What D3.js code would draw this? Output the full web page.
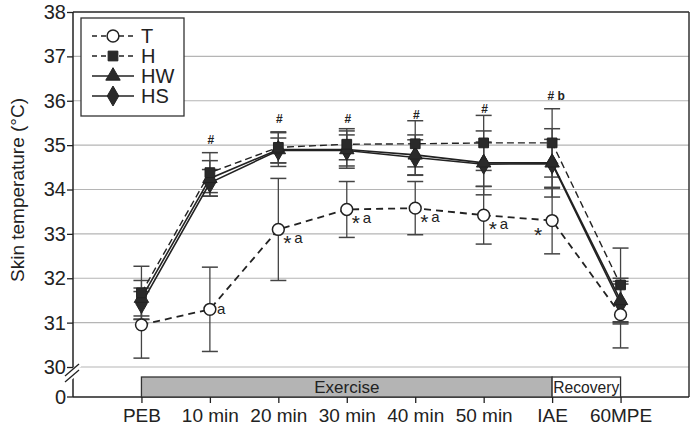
<!DOCTYPE html>
<html>
<head>
<meta charset="utf-8">
<script src="https://cdn.jsdelivr.net/npm/d3@7"></script>
<style>
body { margin: 0; background: #fff; }
text { font-family: "Liberation Sans", Arial, sans-serif; fill: #222; }
</style>
</head>
<body>
<script>
var W = 700, H = 435;

// data
var cats = ["PEB", "10 min", "20 min", "30 min", "40 min", "50 min", "IAE", "60MPE"];
var valT  = [30.95, 31.30, 33.10, 33.55, 33.58, 33.42, 33.30, 31.18];
var sdT   = [0.75, 0.95, 1.15, 0.63, 0.60, 0.65, 0.75, 0.75];
var valH  = [31.67, 34.38, 34.95, 35.02, 35.03, 35.05, 35.05, 31.85];
var sdH   = [0.60, 0.45, 0.35, 0.35, 0.52, 0.62, 0.77, 0.83];
var valHW = [31.55, 34.25, 34.90, 34.90, 34.78, 34.60, 34.60, 31.50];
var sdHW  = [0.40, 0.40, 0.38, 0.42, 0.45, 0.72, 0.77, 0.50];
var valHS = [31.43, 34.15, 34.88, 34.88, 34.72, 34.57, 34.58, 31.42];
var sdHS  = [0.35, 0.30, 0.28, 0.35, 0.40, 0.50, 0.55, 0.45];
var yTicks = [30, 31, 32, 33, 34, 35, 36, 37, 38];
var hashMarks = ["", "#", "#", "#", "#", "#", "# b", ""];
var hashY = [0, 35.02, 35.5, 35.5, 35.6, 35.72, 36.02, 0];
var starMarks = ["", "", "*", "*", "*", "*", "*", ""];
var letterMarks = ["", "a", "a", "a", "a", "a", "", ""];

var svg = d3.select("body").append("svg").attr("width", W).attr("height", H);

var mLeft = 73, mRight = 689, mTop = 12, zeroY = 397;
var x = d3.scaleLinear().domain([0, cats.length + 1]).range([mLeft, mRight]);
var y = d3.scaleLinear().domain([30, 38]).range([367, mTop]);

// gridlines
svg.selectAll(".grid").data(yTicks).enter().append("line")
  .attr("x1", mLeft).attr("x2", mRight)
  .attr("y1", function(d) { return y(d); }).attr("y2", function(d) { return y(d); })
  .attr("stroke", "#b5b5b5").attr("stroke-width", 1.2);

// frame
svg.append("line").attr("x1", mLeft).attr("x2", mRight).attr("y1", mTop).attr("y2", mTop)
  .attr("stroke", "#333").attr("stroke-width", 1.5);
svg.append("line").attr("x1", mRight).attr("x2", mRight).attr("y1", mTop).attr("y2", zeroY)
  .attr("stroke", "#333").attr("stroke-width", 1.5);
svg.append("line").attr("x1", mLeft).attr("x2", mRight).attr("y1", zeroY).attr("y2", zeroY)
  .attr("stroke", "#222").attr("stroke-width", 1.5);

// left axis with break
svg.append("line").attr("x1", mLeft).attr("x2", mLeft).attr("y1", mTop).attr("y2", 372)
  .attr("stroke", "#222").attr("stroke-width", 1.5);
svg.append("line").attr("x1", mLeft).attr("x2", mLeft).attr("y1", 378).attr("y2", zeroY)
  .attr("stroke", "#222").attr("stroke-width", 1.5);
[0, 6].forEach(function(o) {
  svg.append("line").attr("x1", mLeft - 9).attr("x2", mLeft + 7)
    .attr("y1", 381 + o - 4).attr("y2", 369 + o - 4)
    .attr("stroke", "#fff").attr("stroke-width", 4);
});
[0, 6].forEach(function(o) {
  svg.append("line").attr("x1", mLeft - 8).attr("x2", mLeft + 6)
    .attr("y1", 380 + o - 4).attr("y2", 368 + o - 4)
    .attr("stroke", "#222").attr("stroke-width", 1.3);
});

var yAxis = svg.append("g").attr("transform", "translate(" + mLeft + ",0)")
  .call(d3.axisLeft(y).tickValues(yTicks).tickSize(6).tickFormat(d3.format("d")));
yAxis.select(".domain").remove();
yAxis.selectAll("line").attr("stroke", "#222").attr("stroke-width", 1.3);
yAxis.selectAll("text").style("font-size", "20px").attr("x", -7).attr("fill", "#222")
  .style("font-family", "Liberation Sans, Arial, sans-serif");

// zero tick
svg.append("line").attr("x1", mLeft - 6).attr("x2", mLeft).attr("y1", zeroY).attr("y2", zeroY)
  .attr("stroke", "#222").attr("stroke-width", 1.3);
svg.append("text").attr("x", mLeft - 7).attr("y", zeroY).attr("dy", "0.35em")
  .attr("text-anchor", "end").style("font-size", "20px").text("0");

// y label
svg.append("text").attr("transform", "translate(24," + 190 + ") rotate(-90)")
  .attr("text-anchor", "middle").style("font-size", "19px").text("Skin temperature (\u00B0C)");

// phase bars
var barTop = 377;
svg.append("rect").attr("x", x(1)).attr("y", barTop).attr("width", x(7) - x(1)).attr("height", zeroY - barTop)
  .attr("fill", "#b4b4b4").attr("stroke", "#333").attr("stroke-width", 1.3);
svg.append("rect").attr("x", x(7)).attr("y", barTop).attr("width", x(8) - x(7)).attr("height", zeroY - barTop)
  .attr("fill", "#fff").attr("stroke", "#333").attr("stroke-width", 1.3);
svg.append("text").attr("x", (x(1) + x(7)) / 2).attr("y", 393).attr("text-anchor", "middle")
  .style("font-size", "17px").text("Exercise");
svg.append("text").attr("x", (x(7) + x(8)) / 2).attr("y", 393).attr("text-anchor", "middle")
  .style("font-size", "16px").attr("textLength", 66).attr("lengthAdjust", "spacingAndGlyphs").text("Recovery");

// x axis
var xAxis = svg.append("g").attr("transform", "translate(0," + zeroY + ")")
  .call(d3.axisBottom(x).tickValues(d3.range(1, cats.length + 1)).tickSize(6)
    .tickFormat(function(d) { return cats[d - 1]; }));
xAxis.select(".domain").remove();
xAxis.selectAll("line").attr("stroke", "#222").attr("stroke-width", 1.3);
xAxis.selectAll("text").style("font-size", "19px").attr("y", 12).attr("fill", "#222")
  .style("font-family", "Liberation Sans, Arial, sans-serif");

var series = [
  { name: "T",  vals: valT,  sd: sdT,  dash: "7,5", shape: "circle", w: 1.8 },
  { name: "H",  vals: valH,  sd: sdH,  dash: "7,4", shape: "square", w: 1.4 },
  { name: "HW", vals: valHW, sd: sdHW, dash: null,  shape: "triangle", w: 1.6 },
  { name: "HS", vals: valHS, sd: sdHS, dash: null,  shape: "diamond", w: 1.6 }
];

var symbolFor = {
  circle: d3.symbol().type(d3.symbolCircle).size(110),
  square: d3.symbol().type(d3.symbolSquare).size(95),
  triangle: d3.symbol().type(d3.symbolTriangle).size(90),
  diamond: d3.symbol().type(d3.symbolDiamond).size(115)
};

// error bars
series.forEach(function(s) {
  var g = svg.append("g");
  s.vals.forEach(function(v, i) {
    var cx = x(i + 1), hi = y(v + s.sd[i]), lo = y(v - s.sd[i]);
    g.append("line").attr("x1", cx).attr("x2", cx).attr("y1", hi).attr("y2", lo)
      .attr("stroke", "#444").attr("stroke-width", 1.3);
    [hi, lo].forEach(function(yy) {
      g.append("line").attr("x1", cx - 8).attr("x2", cx + 8).attr("y1", yy).attr("y2", yy)
        .attr("stroke", "#444").attr("stroke-width", 1.5);
    });
  });
});

// lines
var line = d3.line().x(function(d, i) { return x(i + 1); }).y(function(d) { return y(d); });
series.slice().reverse().forEach(function(s) {
  svg.append("path").datum(s.vals).attr("d", line).attr("fill", "none")
    .attr("stroke", "#222").attr("stroke-width", s.w)
    .attr("stroke-dasharray", s.dash);
});

// markers
series.slice().reverse().forEach(function(s) {
  svg.selectAll(".m-" + s.name).data(s.vals).enter().append("path")
    .attr("d", symbolFor[s.shape])
    .attr("transform", function(d, i) { return "translate(" + x(i + 1) + "," + y(d) + ")"; })
    .attr("fill", s.shape === "circle" ? "#fff" : "#2a2a2a")
    .attr("stroke", "#222").attr("stroke-width", s.shape === "circle" ? 1.5 : 1);
});

// significance marks
svg.selectAll(".hash").data(hashMarks).enter().append("text")
  .attr("x", function(d, i) { return x(i + 1) + (d === "# b" ? 4 : 1); })
  .attr("y", function(d, i) { return y(hashY[i]); })
  .attr("text-anchor", "middle").style("font-size", "12px").style("font-weight", "bold")
  .text(function(d) { return d; });

// asterisks (T vs others)
svg.selectAll(".star").data(starMarks).enter().append("text")
  .attr("x", function(d, i) { return letterMarks[i] ? x(i + 1) + 5 : x(i + 1) - 18; })
  .attr("y", function(d, i) { return y(valT[i]) + 21; })
  .style("font-size", "21px").text(function(d) { return d; });

svg.selectAll(".letter").data(letterMarks).enter().append("text")
  .attr("x", function(d, i) { return starMarks[i] ? x(i + 1) + 16 : x(i + 1) + 7; })
  .attr("y", function(d, i) { return y(valT[i]) + (starMarks[i] ? 14 : 5); })
  .style("font-size", "15px").text(function(d) { return d; });

// legend
var lg = svg.append("g");
lg.append("rect").attr("x", 81).attr("y", 18).attr("width", 103).attr("height", 98)
  .attr("fill", "#fff").attr("stroke", "#333").attr("stroke-width", 1.3);
series.forEach(function(s, i) {
  var ly = 36 + i * 20;
  lg.append("line").attr("x1", 92).attr("x2", 134).attr("y1", ly).attr("y2", ly)
    .attr("stroke", "#222").attr("stroke-width", 1.6)
    .attr("stroke-dasharray", s.dash ? "5,4" : null);
  lg.append("path").attr("d", symbolFor[s.shape]).attr("transform", "translate(113," + ly + ")")
    .attr("fill", s.shape === "circle" ? "#fff" : "#2a2a2a").attr("stroke", "#222")
    .attr("stroke-width", s.shape === "circle" ? 1.5 : 1);
  lg.append("text").attr("x", 141).attr("y", ly).attr("dy", "0.36em")
    .style("font-size", "20px").text(s.name);
});
</script>
</body>
</html>
